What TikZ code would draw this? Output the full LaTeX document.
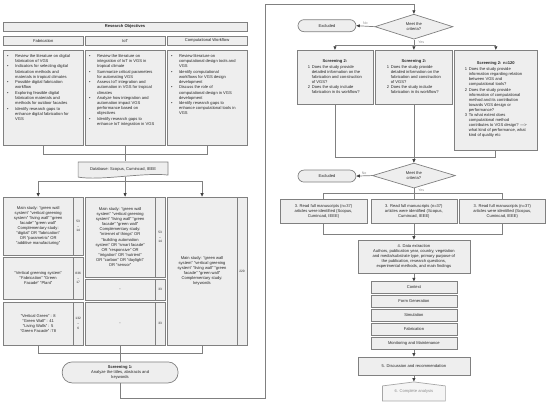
\documentclass[tikz,border=0pt]{standalone}
\usepackage{fontspec}
\setmainfont{Liberation Sans}
\usetikzlibrary{shapes.geometric,arrows.meta}
\definecolor{boxfill}{HTML}{EEEEEE}
\definecolor{boxline}{HTML}{808080}
\definecolor{tipcol}{HTML}{404040}
\definecolor{txtcol}{HTML}{262626}
\definecolor{fadecol}{HTML}{8C8C8C}
\newcommand{\bitem}{\makebox[8pt][l]{\textbullet}}
\newcommand{\bcont}{\hspace*{8pt}}
\newcommand{\nitem}[1]{\makebox[4pt][l]{#1}}
\newcommand{\ncont}{\hspace*{4pt}}
\begin{document}
\begin{tikzpicture}[x=1pt,y=-1pt,
    box/.style={draw=boxline,fill=boxfill,line width=0.7pt,inner sep=1pt,text=txtcol,align=center,font=\fontsize{4.1}{5.1}\selectfont},
    numbox/.style={box,minimum width=10,inner sep=0pt,font=\fontsize{3.2}{4.8}\selectfont},
    term/.style={box,rounded corners=6pt,minimum width=58,minimum height=12},
    crit/.style={box,diamond,aspect=3,inner sep=0pt},
    line/.style={draw=boxline,line width=0.7pt},
    arr/.style={line,-{Triangle[length=3.5pt,width=3pt,color=tipcol]}},
    lbl/.style={text=fadecol,inner sep=1pt,font=\fontsize{3.6}{4.2}\selectfont}]
    \draw[white] (0,0) rectangle (550,404);
    % research objectives
    \node[box,minimum width=244,minimum height=9,font=\fontsize{4.1}{5.1}\selectfont\bfseries] (RO) at (125,26.5) {Research Objectives};
    \node[box,minimum width=80,minimum height=9] (FA) at (43,40.5) {Fabrication};
    \node[box,minimum width=80,minimum height=9] (IO) at (125,40.5) {IoT};
    \node[box,minimum width=80,minimum height=9] (CW) at (207,40.5) {Computational Workflow};
    \node[box,minimum width=80,minimum height=95,inner xsep=4pt,inner ysep=4pt] (FB) at (43,97.5) {\parbox[c][87pt][t]{72pt}{\raggedright
        \bitem Review the literature on digital\\
        \bcont fabrication of VGS\\[0.6pt]
        \bitem Indicators for selecting digital\\
        \bcont fabrication methods and\\
        \bcont materials in tropical climates\\[0.6pt]
        \bitem Possible digital fabrication\\
        \bcont workflow\\[0.6pt]
        \bitem Exploring feasible digital\\
        \bcont fabrication materials and\\
        \bcont methods for outdoor facades\\[0.6pt]
        \bitem Identify research gaps to\\
        \bcont enhance digital fabrication for\\
        \bcont VGS}};
    \node[box,minimum width=80,minimum height=95,inner xsep=4pt,inner ysep=4pt] (IB) at (125,97.5) {\parbox[c][87pt][t]{72pt}{\raggedright
        \bitem Review the literature on\\
        \bcont integration of IoT in VGS in\\
        \bcont tropical climate\\[0.6pt]
        \bitem Summarize critical parameters\\
        \bcont for automating VGS\\[0.6pt]
        \bitem Assess IoT integration and\\
        \bcont automation in VGS for tropical\\
        \bcont climates\\[0.6pt]
        \bitem Analyze how integration and\\
        \bcont automation impact VGS\\
        \bcont performance based on\\
        \bcont objectives\\[0.6pt]
        \bitem Identify research gaps to\\
        \bcont enhance IoT integration in VGS}};
    \node[box,minimum width=80,minimum height=95,inner xsep=4pt,inner ysep=4pt] (CB) at (207,97.5) {\parbox[c][87pt][t]{72pt}{\raggedright
        \bitem Review literature on\\
        \bcont computational design tools and\\
        \bcont VGS\\[0.6pt]
        \bitem Identify computational\\
        \bcont workflows for VGS design\\
        \bcont development\\[0.6pt]
        \bitem Discuss the role of\\
        \bcont computational design in VGS\\
        \bcont development\\[0.6pt]
        \bitem Identify research gaps to\\
        \bcont enhance computational tools in\\
        \bcont VGS}};
    % database
    \draw[line,fill=boxfill] (78,162) -- (168,162) -- (168,175) .. controls (145,172) and (100,181) .. (78,177) -- cycle;
    \node[box,draw=none,fill=none,minimum width=90,minimum height=15] (DB) at (123,169) {Database: Scopus, Cumincad, IEEE};
    \coordinate (J1) at (125,154);
    \coordinate (J2) at (125,181);
    \draw[line] (FB.south) |- (J1) -| (CB.south);
    \draw[line] (IB.south) -- (IB.south |- DB.north);
    % search strings
    \node[box,minimum width=70,minimum height=58] (L1) at (38,226) {Main study: ``green wall\\system'' ``vertical greening\\system'' ``living wall'' ``green\\facade'' ``green wall''\\Complementary study:\\``digital'' OR ``fabrication''\\OR ``parametric'' OR\\``additive manufacturing''};
    \node[numbox,minimum height=58] (L1n) at (78,226) {53\\--\\14};
    \node[box,minimum width=70,minimum height=42] (L2) at (38,278) {``Vertical greening system''\\``Fabrication'' ``Green\\Facade'' ``Plant''};
    \node[numbox,minimum height=42] (L2n) at (78,278) {836\\--\\17};
    \node[box,minimum width=70,minimum height=43] (L3) at (38,323.5) {``Vertical Green'' : 8\\``Green Wall'' : 41\\``Living Walls'' : 5\\``Green Facade'' :78};
    \node[numbox,minimum height=43] (L3n) at (78,323.5) {132\\--\\6};
    \node[box,minimum width=70,minimum height=80] (M1) at (120,237) {Main study: ``green wall\\system'' ``vertical greening\\system'' ``living wall'' ``green\\facade'' ``green wall''\\Complementary study:\\``internet of things'' OR\\``building automation\\system'' OR ``smart facade''\\OR ``responsive'' OR\\``irrigation'' OR ``nutrient''\\OR ``carbon'' OR ``daylight''\\OR ``sensor''};
    \node[numbox,minimum height=80] (M1n) at (160,237) {53\\--\\14};
    \node[box,minimum width=70,minimum height=21] (M2) at (120,289.5) {-};
    \node[numbox,minimum height=21] (M2n) at (160,289.5) {33};
    \node[box,minimum width=70,minimum height=43] (M3) at (120,323.5) {-};
    \node[numbox,minimum height=43] (M3n) at (160,323.5) {33};
    \node[box,minimum width=70,minimum height=148] (R1) at (202,271) {Main study: ``green wall\\system'' ``vertical greening\\system'' ``living wall'' ``green\\facade'' ``green wall''\\Complementary study:\\keywords};
    \node[numbox,minimum height=148] (R1n) at (242,271) {220};
    \draw[line] (DB.south -| J2) -- (J2);
    \draw[arr] (J2) -| (L1.north);
    \draw[arr] (J2) -| (R1.north);
    \draw[arr] (J2) -- (J2 |- M1.north);
    % screening 1
    \node[box,rounded corners=10pt,minimum width=116,minimum height=21] (S1) at (120,372.5) {\textbf{Screening 1:}\\Analyze the titles, abstracts and\\keywords};
    \coordinate (J3) at (120,353);
    \draw[line] (L3.south) |- (J3) -| (R1.south);
    \draw[line] (M3.south) -- (S1.north);
    \coordinate (C1) at (265,398);
    \coordinate (C2) at (265,4);
    % first criteria check
    \node[crit,minimum width=78,minimum height=25] (D1) at (414,26.5) {Meet the\\criteria?};
    \node[term] (X1) at (327,25.5) {Excluded};
    \draw[arr] (S1.south) |- (C1) -- (C2) -| (D1.north);
    \draw[arr] (D1.west) -- (X1.east) node[lbl,midway,above] {No};
    \coordinate (J4) at (414,45);
    \draw[line] (D1.south) -- (J4) node[lbl,midway,right,xshift=3pt] {Yes};
    \node[box,minimum width=76,minimum height=54] (S2a) at (335,77) {\textbf{Screening 2:}\\[0.5pt]\begin{tabular}{@{}l@{}}
        \nitem{1}Does the study provide\\
        \ncont detailed information on the\\
        \ncont fabrication and construction\\
        \ncont of VGS?\\
        \nitem{2}Does the study include\\
        \ncont fabrication in its workflow?\end{tabular}};
    \node[box,minimum width=77,minimum height=54] (S2b) at (414,77) {\textbf{Screening 2:}\\[0.5pt]\begin{tabular}{@{}l@{}}
        \nitem{1}Does the study provide\\
        \ncont detailed information on the\\
        \ncont fabrication and construction\\
        \ncont of VGS?\\
        \nitem{2}Does the study include\\
        \ncont fabrication in its workflow?\end{tabular}};
    \node[box,minimum width=84,minimum height=100] (S2c) at (496,100) {\textbf{Screening 2: n=120}\\[0.5pt]\begin{tabular}{@{}l@{}}
        \nitem{1}Does the study provide\\
        \ncont information regarding relation\\
        \ncont between VGS and\\
        \ncont computational tools?\\
        \nitem{2}Does the study provide\\
        \ncont information of computational\\
        \ncont method and its contribution\\
        \ncont towards VGS design or\\
        \ncont performance?\\
        \nitem{3}To what extent does\\
        \ncont computational method\\
        \ncont contributes to VGS design? ---\textgreater\\
        \ncont what kind of performance, what\\
        \ncont kind of quality etc\end{tabular}};
    \draw[arr] (J4) -| (S2a.north);
    \draw[arr] (J4) -| (S2c.north);
    \draw[arr] (J4) -- (S2b.north);
    % second criteria check
    \node[crit,minimum width=83,minimum height=25] (D2) at (414,175.5) {Meet the\\criteria?};
    \node[term] (X2) at (327,176) {Excluded};
    \coordinate (J5) at (414,157);
    \draw[line] (S2a.south) |- (J5) -| (S2c.south);
    \draw[arr] (S2b.south) -- (D2.north);
    \draw[arr] (D2.west) -- (X2.east) node[lbl,midway,above] {No};
    \coordinate (J6) at (414,193);
    \draw[line] (D2.south) -- (J6) node[lbl,midway,right,xshift=3pt] {Yes};
    % full reading
    \node[box,minimum width=87,minimum height=24] (F1) at (323.5,211) {3. Read full manuscripts (n=37)\\articles were identified (Scopus,\\Cumincad, IEEE)};
    \node[box,minimum width=86,minimum height=24] (F2) at (414,211) {3. Read full manuscripts (n=37)\\articles were identified (Scopus,\\Cumincad, IEEE)};
    \node[box,minimum width=87,minimum height=24] (F3) at (502.5,211) {3. Read full manuscripts (n=37)\\articles were identified (Scopus,\\Cumincad, IEEE)};
    \draw[line] (J6) -| (F1.north);
    \draw[line] (J6) -| (F3.north);
    \draw[line] (J6) -- (F2.north);
    % data extraction
    \node[box,minimum width=112,minimum height=33] (DE) at (414,256.5) {4. Data extraction\\Authors, publication year, country, vegetation\\and media/substrate type, primary purpose of\\the publication, research questions,\\experimental methods, and main findings};
    \coordinate (J7) at (414,234);
    \draw[line] (F1.south) |- (J7) -| (F3.south);
    \draw[arr] (F2.south) -- (DE.north);
    \node[box,minimum width=86,minimum height=11.5] (CX) at (414,287.5) {Context};
    \node[box,minimum width=86,minimum height=11.5] (FG) at (414,301.5) {Form Generation};
    \node[box,minimum width=86,minimum height=11.5] (SM) at (414,315.5) {Simulation};
    \node[box,minimum width=86,minimum height=11.5] (FC) at (414,329.5) {Fabrication};
    \node[box,minimum width=86,minimum height=11.5] (MM) at (414,343.5) {Monitoring and Maintenance};
    \draw[arr] (DE.south) -- (CX.north);
    \node[box,minimum width=112,minimum height=18] (DR) at (414,366) {5. Discussion and recommendation};
    \draw[arr] (MM.south) -- (DR.north);
    % complete analysis
    \draw[draw=boxline!70,fill=boxfill!60,line width=0.7pt] (382.5,401) -- (382.5,386) -- (414,382) -- (445.5,386) -- (445.5,401) -- cycle;
    \node[box,draw=none,fill=none,text=fadecol,minimum width=63,minimum height=19] (CA) at (414,391.5) {6. Complete analysis};
    \draw[arr] (DR.south) -- (CA.north);
\end{tikzpicture}
\end{document}
